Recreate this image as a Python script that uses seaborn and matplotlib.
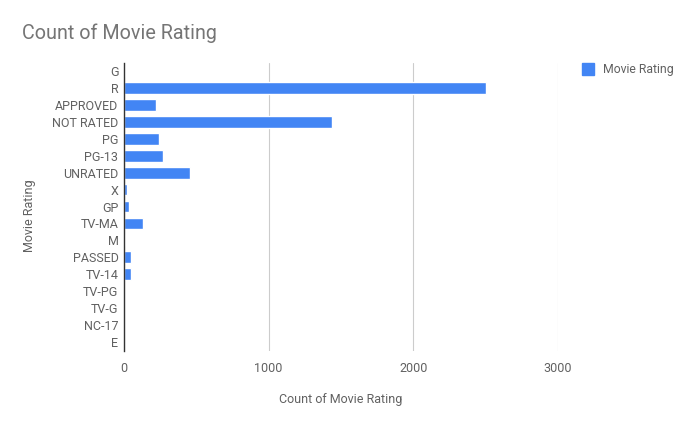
import matplotlib
matplotlib.use("Agg")
import matplotlib.pyplot as plt
import seaborn as sns
import pandas as pd
from matplotlib.lines import Line2D

categories = ["G", "R", "APPROVED", "NOT RATED", "PG", "PG-13", "UNRATED", "X", "GP",
              "TV-MA", "M", "PASSED", "TV-14", "TV-PG", "TV-G", "NC-17", "E"]
counts = [10, 2505, 222, 1436, 242, 268, 457, 23, 32, 131, 9, 46, 46, 3, 3, 3, 1]
xticks = [0, 1000, 2000, 3000]

sns.set_theme(style="white")
plt.rcParams['font.family'] = ['Roboto', 'DejaVu Sans']

df = pd.DataFrame({"Movie Rating": categories, "Count": counts})

fig = plt.figure(figsize=(6.93, 4.28), dpi=100)
ax = fig.add_axes([124/693, 1 - 350.5/428, (558-124)/693, (350.5-62.5)/428])

text_col = "#616161"
bar_col = "#4285F4"
sns.barplot(data=df, y="Movie Rating", x="Count", color=bar_col, orient="h",
            width=0.7, ax=ax, saturation=1)

ax.set_xlim(0, 3000)
ax.set_xticks(xticks)
ax.set_xticklabels([str(t) for t in xticks])
ax.xaxis.grid(True, color="#CCCCCC", linewidth=0.8)
ax.set_axisbelow(True)
for s in ["top", "right", "bottom"]:
    ax.spines[s].set_visible(False)
ax.spines["left"].set_color("#333333")
ax.spines["left"].set_linewidth(1.0)
ax.spines["left"].set_zorder(5)
ax.tick_params(axis="both", length=0, labelsize=9, colors=text_col, pad=4)
ax.tick_params(axis="x", pad=8)

ax.set_xlabel("Count of Movie Rating", fontsize=9, color=text_col, labelpad=13)
ax.set_ylabel("Movie Rating", fontsize=9, color=text_col)
ax.yaxis.set_label_coords((36 - 124) / (558 - 124), 0.467)

fig.text(22/693, 1 - 33/428, "Count of Movie Rating", fontsize=14.2, color="#757575",
         va="center", ha="left")

handle = Line2D([], [], marker="s", linestyle="none", markersize=9,
                markerfacecolor=bar_col, markeredgecolor=bar_col)
leg = ax.legend([handle], ["Movie Rating"], loc="upper left",
                bbox_to_anchor=(577/693, 1 - 58/428),
                bbox_transform=fig.transFigure, frameon=False, fontsize=8.8,
                handlelength=1.0, handletextpad=0.7, borderaxespad=0)
for t in leg.get_texts():
    t.set_color(text_col)

fig.savefig("out.png", dpi=100)
